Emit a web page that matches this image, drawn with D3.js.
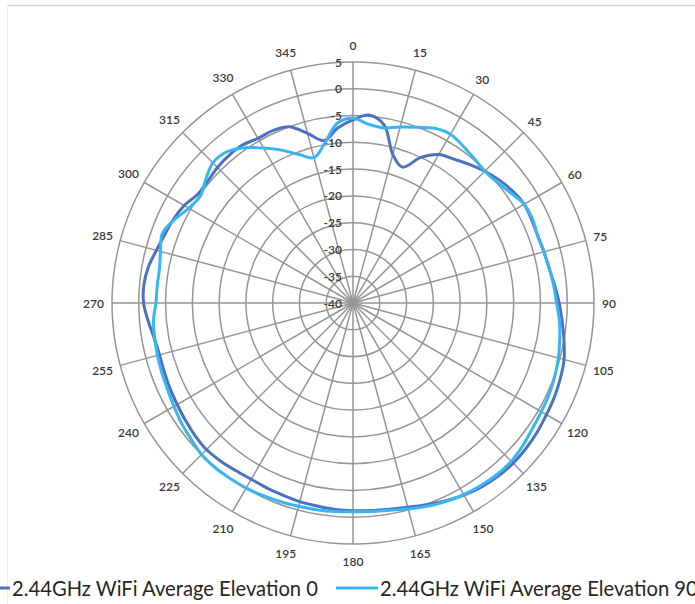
<!DOCTYPE html>
<html>
<head>
<meta charset="utf-8">
<script src="https://cdnjs.cloudflare.com/ajax/libs/d3/7.8.5/d3.min.js"></script>
<style>
  body { margin: 0; background: #fff; }
  svg { display: block; font-family: Lato, "Open Sans", sans-serif; }
</style>
</head>
<body>
<svg></svg>
<script>
// angles in degrees, every 5
var angles = d3.range(0, 360, 5);

var elev0 = [
  -5.8, -4.8, -6.3, -11.3, -13.0, -10.0, -8.0, -7.2, -6.2, -5.2, -4.3, -3.6,
  -3.1, -3.2, -3.3, -3.1, -2.8, -2.2, -1.5, -0.8, 0.0, 0.8, 1.2, 1.5,
  1.7, 2.0, 2.2, 2.3, 2.2, 1.9, 1.4, 0.8, 0.1, -0.5, -0.9, -1.1,
  -1.2, -1.3, -1.5, -1.6, -1.8, -1.9, -2.0, -1.8, -1.5, -1.3, -1.5, -1.8,
  -2.1, -2.3, -2.5, -2.6, -2.3, -1.6, -0.9, -0.8, -1.2, -2.0, -2.6, -3.0,
  -3.6, -4.6, -4.6, -4.2, -4.0, -4.0, -4.5, -4.5, -5.0, -7.2, -9.2, -7.2
];

var elev90 = [
  -5.5, -6.5, -6.8, -6.0, -5.1, -4.0, -3.6, -4.2, -4.8, -5.2, -4.9, -4.1,
  -3.1, -3.0, -3.3, -3.1, -2.8, -2.4, -2.0, -1.3, -0.8, -0.3, 0.1, 0.4,
  0.6, 0.9, 1.4, 1.8, 1.8, 1.6, 1.3, 0.9, 0.4, -0.2, -0.7, -0.9,
  -1.0, -0.9, -0.8, -0.7, -0.5, -0.3, -0.1, 0.0, 0.1, 0.0, -0.5, -0.9,
  -1.4, -1.8, -2.0, -2.2, -2.4, -2.6, -3.2, -3.3, -3.3, -2.8, -2.1, -3.2,
  -4.6, -5.2, -4.1, -3.0, -3.2, -4.6, -6.6, -8.5, -10.5, -11.9, -9.7, -6.3
];

var seriesNames = ["2.44GHz WiFi Average Elevation 0", "2.44GHz WiFi Average Elevation 90"];
var seriesColors = ["#4c71c1", "#38b6f1"];
var angleTicks = d3.range(0, 360, 15);
var valueTicks = d3.range(-40, 6, 5);

var width = 695, height = 604;
var cx = 353, cy = 303, R = 241;

var svg = d3.select("svg").attr("width", width).attr("height", height);

// frame edges
svg.append("line").attr("x1", 7).attr("x2", width).attr("y1", 5.5).attr("y2", 5.5)
   .attr("stroke", "#d2d2d2").attr("stroke-width", 1.5);
svg.append("line").attr("x1", 7.5).attr("x2", 7.5).attr("y1", 5).attr("y2", height)
   .attr("stroke", "#f0f0f0").attr("stroke-width", 1);

var r = d3.scaleLinear().domain([-40, 5]).range([0, R]);
var g = svg.append("g").attr("transform", "translate(" + cx + "," + cy + ")");

// rings
g.append("g").selectAll("circle")
  .data(valueTicks.slice(1))
  .join("circle")
  .attr("r", function(d) { return r(d); })
  .attr("fill", "none")
  .attr("stroke", "#959595")
  .attr("stroke-width", 1.5);

// spokes
g.append("g").selectAll("line")
  .data(angleTicks)
  .join("line")
  .attr("x1", 0).attr("y1", 0)
  .attr("x2", function(d) { return R * Math.sin(d * Math.PI / 180); })
  .attr("y2", function(d) { return -R * Math.cos(d * Math.PI / 180); })
  .attr("stroke", "#959595")
  .attr("stroke-width", 1.5);

// angle labels
g.append("g").selectAll("text")
  .data(angleTicks)
  .join("text")
  .text(function(d) { return d; })
  .attr("font-size", 12)
  .attr("font-weight", 600)
  .attr("fill", "#3a3a3a")
  .attr("text-anchor", "middle")
  .attr("dominant-baseline", "central")
  .each(function(d) {
    var a = d * Math.PI / 180;
    var w = this.getComputedTextLength();
    var rr = R + 8 + Math.abs(Math.sin(a)) * w / 2 + Math.pow(Math.abs(Math.cos(a)), 3) * 9;
    d3.select(this).attr("x", rr * Math.sin(a)).attr("y", -rr * Math.cos(a));
  });

// value labels
g.append("g").selectAll("text")
  .data(valueTicks)
  .join("text")
  .text(function(d) { return d; })
  .attr("font-size", 12)
  .attr("font-weight", 600)
  .attr("fill", "#3a3a3a")
  .attr("text-anchor", "end")
  .attr("dominant-baseline", "central")
  .attr("x", -11)
  .attr("y", function(d) { return -r(d); });

// series
var line = d3.lineRadial()
  .angle(function(d, i) { return angles[i] * Math.PI / 180; })
  .radius(function(d) { return r(d); })
  .curve(d3.curveCatmullRomClosed);

[elev0, elev90].forEach(function(s, i) {
  g.append("path")
    .attr("d", line(s))
    .attr("fill", "none")
    .attr("stroke", seriesColors[i])
    .attr("stroke-width", 3)
    .attr("stroke-linejoin", "round");
});

// legend (first marker is cut by the left edge, like the original)
var legend = svg.append("g").attr("transform", "translate(0,588)");
var lx = -32;
seriesNames.forEach(function(n, i) {
  legend.append("line")
    .attr("x1", lx).attr("x2", lx + 42)
    .attr("stroke", seriesColors[i]).attr("stroke-width", 3);
  var t = legend.append("text")
    .attr("x", lx + 44)
    .attr("dominant-baseline", "central")
    .attr("font-size", 20.2)
    .attr("fill", "#262626")
    .text(n);
  lx = lx + 44 + t.node().getComputedTextLength() + 18;
});
</script>
</body>
</html>
